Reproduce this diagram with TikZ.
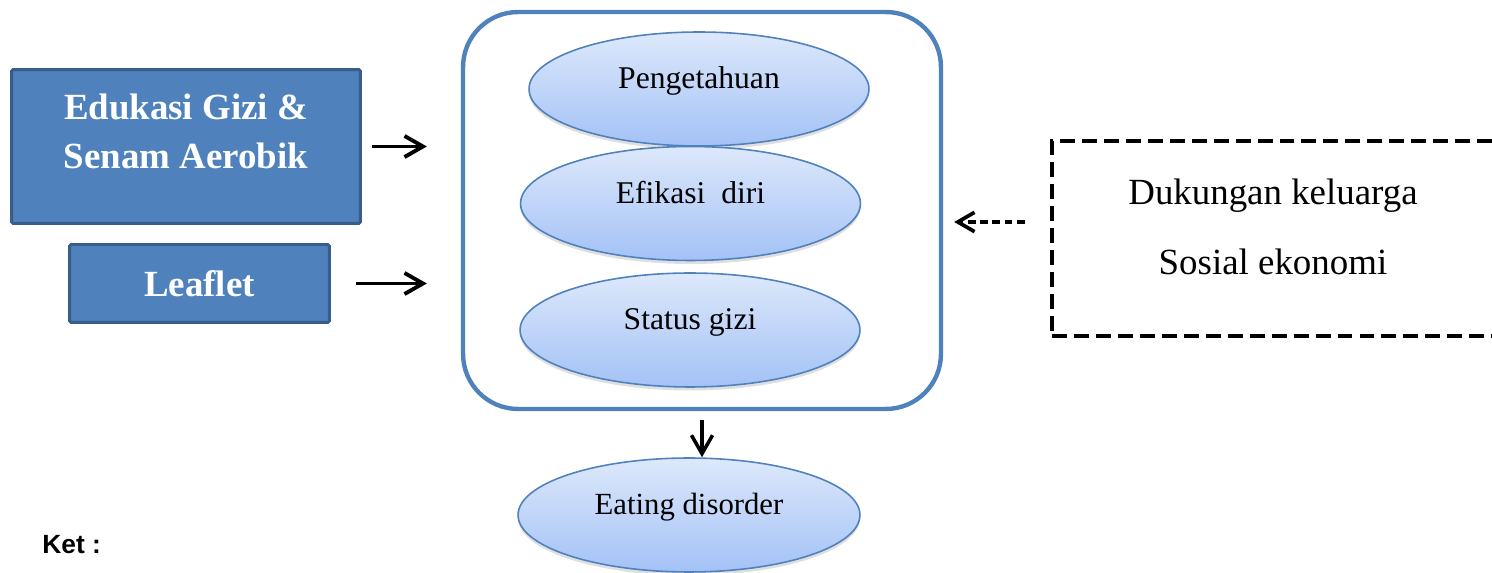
\documentclass[tikz,border=0pt]{standalone}
\usepackage{fontspec}
\setmainfont{Liberation Serif}
\setsansfont{Liberation Sans}
\usetikzlibrary{arrows.meta,shapes.geometric,shadows}
\definecolor{boxblue}{HTML}{4F81BD}
\definecolor{boxedge}{HTML}{385D8A}
\definecolor{elltop}{HTML}{DDE8FB}
\definecolor{ellbot}{HTML}{A3C2F6}

\begin{document}
\begin{tikzpicture}[x=0.02cm,y=-0.02cm,
	inbox/.style={draw=boxedge,fill=boxblue,line width=1.7pt,rounded corners=1pt,text=white,
		font=\fontsize{21}{28}\selectfont\bfseries,align=center},
	factor/.style={ellipse,draw=boxblue,line width=0.9pt,top color=elltop,bottom color=ellbot,
		minimum width=6.8cm,minimum height=2.28cm,text height=0.7em,text depth=0.7em,
		font=\fontsize{18}{22}\selectfont,
		drop shadow={opacity=0.25,shadow xshift=0pt,shadow yshift=-2pt}},
	bigarrow/.style={-{Straight Barb[length=10.5pt,width=12pt]},line width=2.2pt},
	downarrow/.style={-{Straight Barb[length=10.5pt,width=12pt]},line width=2pt},
	dasharrow/.style={-{Straight Barb[length=9.5pt,width=11pt]},line width=2.1pt,dash pattern=on 4.5pt off 2.5pt}]
	\useasboundingbox (0,0) rectangle (1492,573);
	% interventions
	\node[inbox,minimum width=6.98cm,minimum height=3.08cm,text depth=0.6cm] (B0) at (186,146.5) {Edukasi Gizi \&\\Senam Aerobik};
	\node[inbox,minimum width=5.2cm,minimum height=1.56cm] (B1) at (199.5,283.5) {Leaflet};
	% outcome group
	\node[draw=boxblue,line width=2.5pt,rounded corners=1.1cm,minimum width=9.56cm,minimum height=7.94cm] (M) at (702,210.5) {};
	\node[factor] (P0) at (699,89) {Pengetahuan};
	\node[factor] (P1) at (690.5,203.5) {Efikasi\ \ diri};
	\node[factor] (P2) at (690,330) {Status gizi};
	\node[factor,minimum width=6.84cm,font=\fontsize{17.5}{21}\selectfont] (P3) at (689,515) {Eating disorder};
	% confounders
	\node[draw,line width=2.6pt,dash pattern=on 8.5pt off 4pt,minimum width=9.92cm,minimum height=3.9cm] (X) at (1300,238.5) {};
	\node[font=\fontsize{21}{39.7}\selectfont,align=center] (F) at (1273,227) {Dukungan keluarga\\Sosial ekonomi};
	\node[anchor=west,inner sep=0pt,font=\sffamily\bfseries\fontsize{15}{17}\selectfont] (K) at (42,545) {Ket :};
	\coordinate (D) at ([yshift=0.33cm]X.west);
	\path[bigarrow]
	     (B0.east) edge[shorten <=0.2cm,shorten >=0.68cm] (B0.east -| M.west)
	     (B1.east) edge[shorten <=0.5cm,shorten >=0.68cm] (B1.east -| M.west);
	\path[downarrow]
	     (M.south) edge[shorten <=0.18cm] (M.south |- P3.north);
	\path[dasharrow]
	     (D) edge[shorten <=0.5cm,shorten >=0.22cm] (D -| M.east);
\end{tikzpicture}
\end{document}
